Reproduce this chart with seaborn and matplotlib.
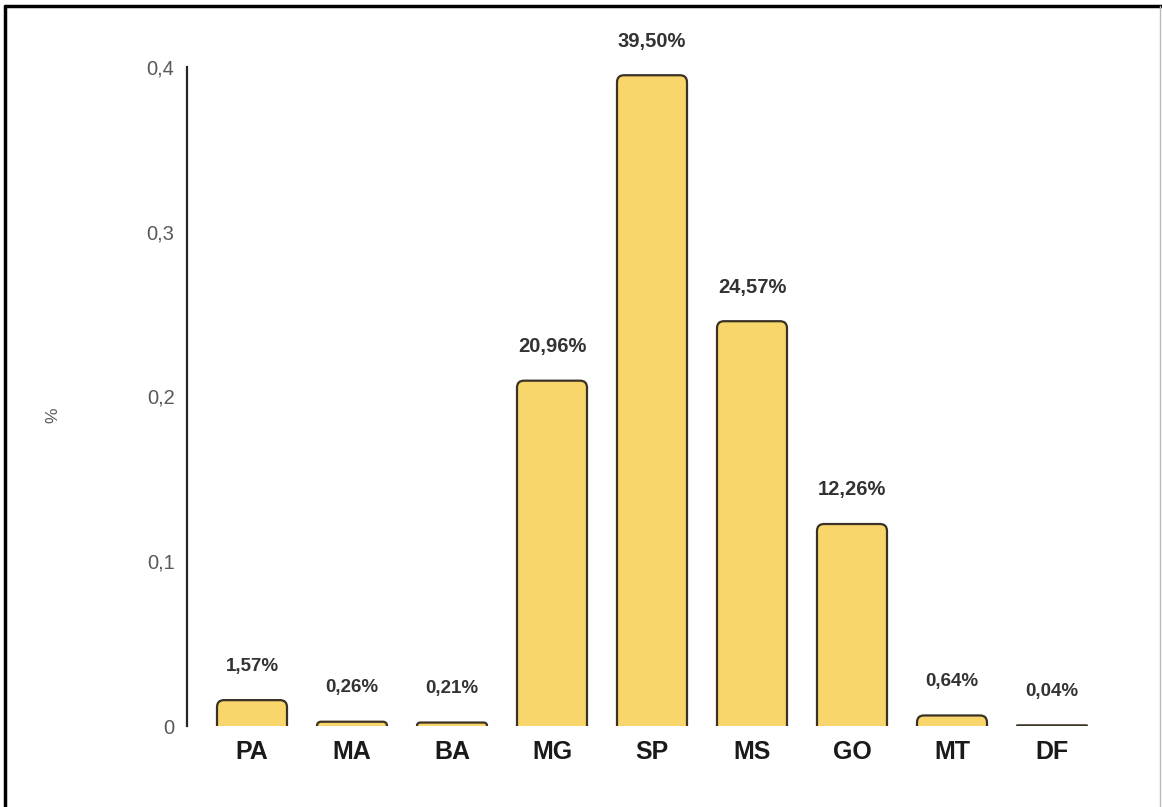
import matplotlib
matplotlib.use("Agg")
import matplotlib.pyplot as plt
from matplotlib.patches import FancyBboxPatch
from matplotlib.lines import Line2D
import seaborn as sns
import pandas as pd

# State codes and their share of the total
states = ["PA", "MA", "BA", "MG", "SP", "MS", "GO", "MT", "DF"]
shares = [0.0157, 0.0026, 0.0021, 0.2096, 0.3950, 0.2457, 0.1226, 0.0064, 0.0004]
share_labels = ["1,57%", "0,26%", "0,21%", "20,96%", "39,50%", "24,57%", "12,26%", "0,64%", "0,04%"]
y_ticks = [0, 0.1, 0.2, 0.3, 0.4]
y_tick_labels = ["0", "0,1", "0,2", "0,3", "0,4"]

sns.set_theme(style="white")
plt.rcParams["font.family"] = ["Liberation Sans", "DejaVu Sans"]

df = pd.DataFrame({"estado": states, "share": shares})

W, H = 1162, 807
fig = plt.figure(figsize=(W / 100, H / 100), dpi=100)
ax = fig.add_axes([187 / W, 1 - 726 / H, (1112 - 187) / W, (726 - 67) / H])

BAR_FILL = "#F9D66B"
BAR_EDGE = "#3B3226"

sns.barplot(data=df, x="estado", y="share", order=states, color=BAR_FILL,
            width=0.7, saturation=1, ax=ax)

ax.set_xlim(-0.65, 8.6)
ax.set_ylim(0, 0.4)

# Replace the square bars with rounded ones of the same geometry
fig.canvas.draw()
inv = ax.transData.inverted()
p0 = inv.transform((0, 0))
p1 = inv.transform((1, 1))
x_per_px = p1[0] - p0[0]
y_per_px = p1[1] - p0[1]
aspect = y_per_px / x_per_px
radius_px = 7

bars = list(ax.patches)
for bar in bars:
    x0, w, h = bar.get_x(), bar.get_width(), bar.get_height()
    h_px = h / y_per_px
    r_px = min(radius_px, max(h_px, 0.5))
    r = r_px * x_per_px
    extra = r_px * y_per_px
    rounded = FancyBboxPatch(
        (x0, -extra), w, h + extra,
        boxstyle=f"round,pad=0,rounding_size={r}",
        mutation_aspect=aspect,
        facecolor=BAR_FILL, edgecolor=BAR_EDGE, linewidth=1.6,
        clip_on=True, zorder=3,
    )
    ax.add_patch(rounded)
    bar.remove()

# Value labels above the bars
for i, (v, lab) in enumerate(zip(shares, share_labels)):
    ax.annotate(lab, (i, v), xytext=(0, 24.5), textcoords="offset points",
                ha="center", va="center", fontweight="bold",
                fontsize=14.5 if v >= 0.1 else 13.5, color="#333333",
                annotation_clip=False)

ax.set_yticks(y_ticks)
ax.set_yticklabels(y_tick_labels, fontsize=14.5, color="#595959")
ax.tick_params(axis="y", length=0, pad=9)
ax.tick_params(axis="x", length=0, pad=10)
for t in ax.get_xticklabels():
    t.set_fontsize(18)
    t.set_fontweight("bold")
    t.set_color("#1a1a1a")

ax.set_xlabel("")
ax.set_ylabel("%", fontsize=12.5, color="#595959")
ax.yaxis.set_label_coords(-0.137, 0.472)

for side in ["top", "right", "bottom"]:
    ax.spines[side].set_visible(False)
ax.spines["left"].set_color("#262626")
ax.spines["left"].set_linewidth(1.6)
ax.grid(False)

# Outer frame
fig.add_artist(Line2D([5 / W, 5 / W], [0, 1 - 6 / H], transform=fig.transFigure,
                      color="black", linewidth=2.5))
fig.add_artist(Line2D([5 / W, 1], [1 - 6 / H, 1 - 6 / H], transform=fig.transFigure,
                      color="black", linewidth=2.5))
fig.add_artist(Line2D([1160 / W, 1160 / W], [0, 1 - 6 / H], transform=fig.transFigure,
                      color="#bbbbbb", linewidth=1))

fig.savefig("out.png", dpi=100, facecolor="white")
